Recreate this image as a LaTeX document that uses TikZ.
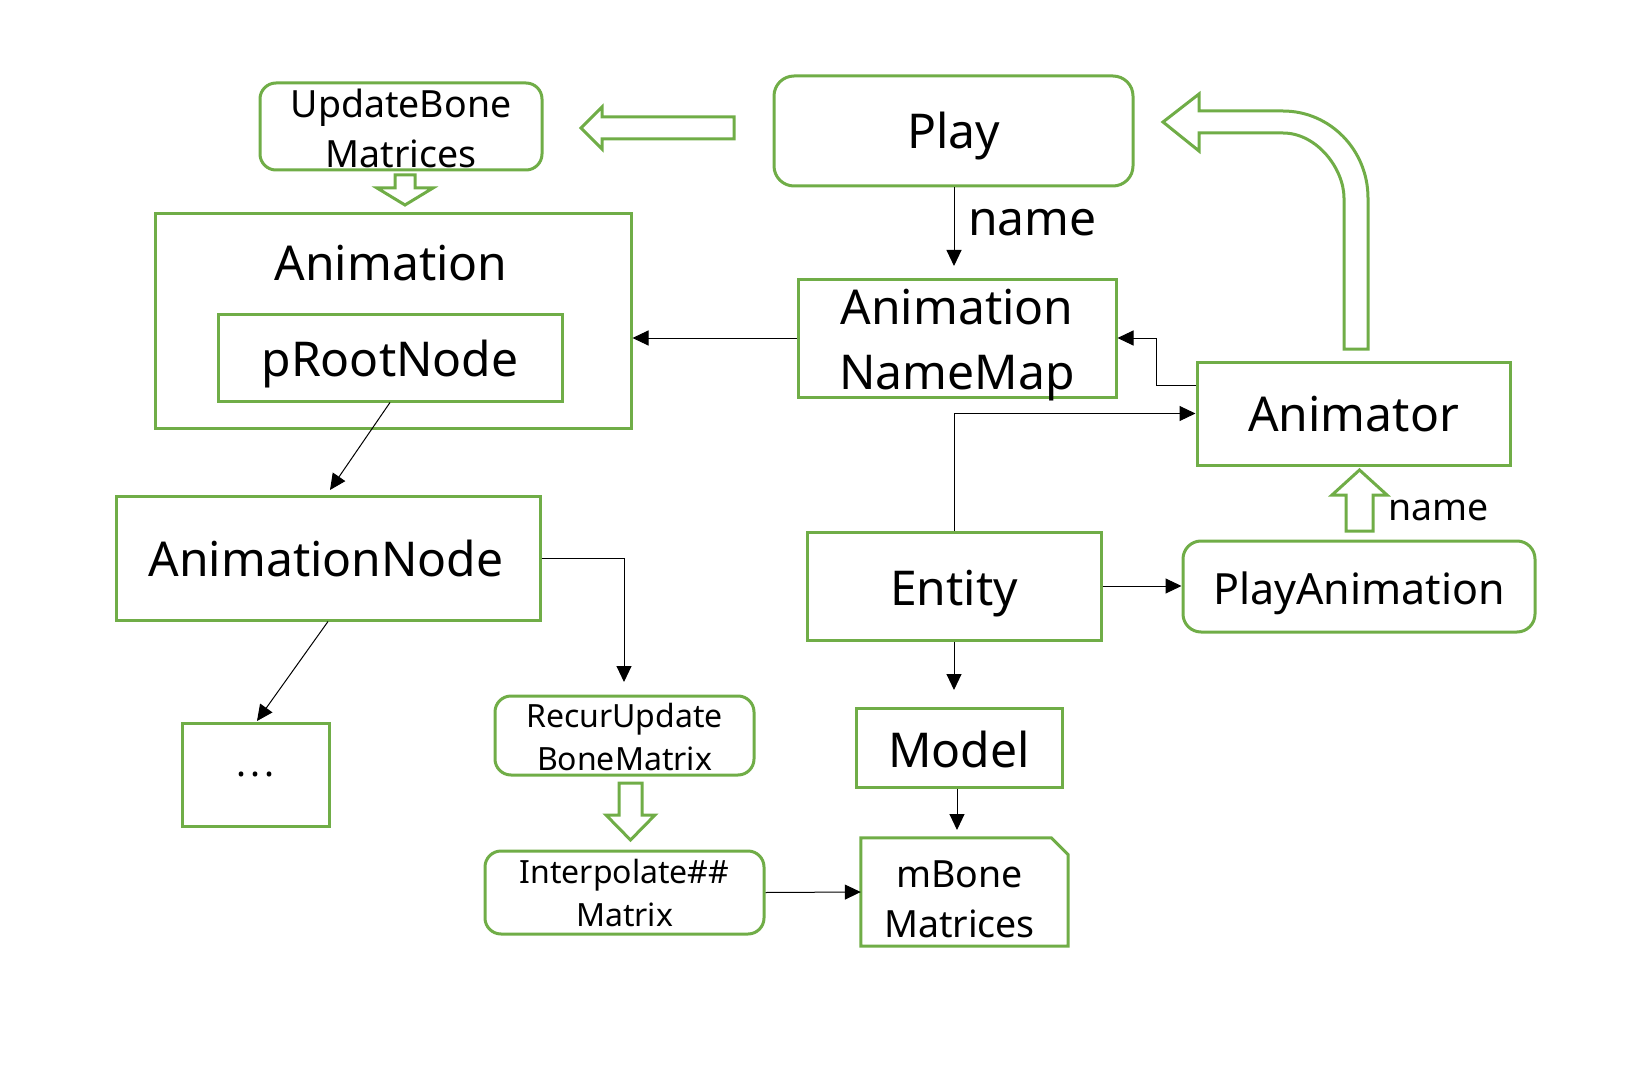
\documentclass[tikz,border=0pt]{standalone}
\usepackage{fontspec}
\setmainfont{Noto Sans}
\usetikzlibrary{arrows.meta}
\definecolor{gr}{HTML}{70AD47}
\begin{document}
\begin{tikzpicture}[x=1pt,y=-1pt,
  box/.style={draw=gr, line width=3pt, fill=white, inner sep=0pt, align=center, text=black},
  rbox/.style={box, rounded corners=16pt},
  fL/.style={font=\fontsize{48}{65}\selectfont, inner sep=0pt, align=center},
  fP/.style={font=\fontsize{43}{58}\selectfont, inner sep=0pt, align=center},
  fM/.style={font=\fontsize{37.5}{50}\selectfont, inner sep=0pt, align=center},
  fS/.style={font=\fontsize{32}{43}\selectfont, inner sep=0pt, align=center},
  conn/.style={line width=1pt, -{Triangle[length=16pt,width=15pt]}},
  hollow/.style={draw=gr, line width=3pt, fill=white, line join=miter}
]
\useasboundingbox (0,0) rectangle (1636,1078);

% boxes
\node[rbox, minimum width=359pt, minimum height=110pt, rounded corners=20pt,
  label={[fL,yshift=-5pt]center:Play}] (play) at (953.5,131) {};
\node[rbox, minimum width=282pt, minimum height=87pt,
  label={[fM,yshift=-2pt]center:{UpdateBone\\Matrices}}] (ubm) at (401,126.5) {};
\node[box, minimum width=476pt, minimum height=214pt] (anim) at (393,321) {};
\node[fL] (animtitle) at (391,263) {Animation};
\node[box, minimum width=344pt, minimum height=87pt,
  label={[fL,yshift=-7pt]center:pRootNode}] (proot) at (390,357.5) {};
\node[box, minimum width=318pt, minimum height=118pt,
  label={[fL,yshift=-7pt]center:{Animation\\NameMap}}] (nmap) at (957,338) {};
\node[box, minimum width=313pt, minimum height=103pt,
  label={[fL,yshift=-1pt]center:Animator}] (animator) at (1353.5,413.5) {};
\node[box, minimum width=294pt, minimum height=108pt,
  label={[fL,yshift=-8pt]center:Entity}] (entity) at (954,586) {};
\node[rbox, minimum width=352pt, minimum height=91pt, rounded corners=18pt,
  label={[fP,yshift=-7pt]center:PlayAnimation}] (playanim) at (1359,586.5) {};
\node[box, minimum width=424pt, minimum height=124pt,
  label={[fL,xshift=-2pt]center:AnimationNode}] (animnode) at (328,558) {};
\node[box, minimum width=147pt, minimum height=103pt,
  label={[fM]center:{.\hspace{4pt}.\hspace{4pt}.}}] (dots) at (255.5,774.5) {};
\node[rbox, minimum width=259pt, minimum height=79pt,
  label={[fS,yshift=-1pt]center:{RecurUpdate\\BoneMatrix}}] (recur) at (624.5,735.5) {};
\node[rbox, minimum width=279pt, minimum height=83pt,
  label={[fS]center:{Interpolate\#\#\\Matrix}}] (interp) at (624.5,892.5) {};
\node[box, minimum width=206pt, minimum height=79pt,
  label={[fL,yshift=-2pt]center:Model}] (model) at (959,747.5) {};
\node[minimum width=207pt, minimum height=108pt, inner sep=0pt,
  label={[fM,xshift=-5pt,yshift=-7pt]center:{mBone\\Matrices}}] (mbone) at (964.5,892) {};
\draw[draw=gr, line width=3pt] (mbone.south west) -- (mbone.north west) -- ([xshift=-17pt]mbone.north east) -- ([yshift=-17pt]mbone.north east) -- (mbone.south east) -- cycle;

% labels
\node[fL, anchor=west] (lname1) at (968,223) {name};
\node[fM, anchor=west] (lname2) at (1388,510) {name};

% connectors
\coordinate (pn) at (954,266);
\draw[conn] (pn |- play.south) -- (pn);
\draw[conn] (nmap.west) -- (anim.east |- nmap.west);
\coordinate (k1) at (1156,385);
\draw[conn] (animator.west |- k1) -- (k1) |- (nmap.east);
\draw[conn] (entity.north) |- (animator.west);
\draw[conn] (entity.east) -- (playanim.west |- entity.east);
\coordinate (k2) at (330,490);
\draw[conn] (proot.south) -- (k2);
\coordinate (k3) at (257,721);
\draw[conn] (animnode.south) -- (k3);
\coordinate (k4) at (624,682);
\draw[conn] (animnode.east) -| (k4);
\coordinate (k5) at (954,690);
\draw[conn] (entity.south) -- (k5);
\coordinate (k6) at (957,830);
\draw[conn] (k6 |- model.south) -- (k6);
\draw[conn] (interp.east) -- (mbone.west);

% hollow block arrows
\draw[hollow] (734,117) -- (602,117) -- (602,107) -- (581,128) -- (602,149) -- (602,139) -- (734,139) -- cycle;
\draw[hollow] (395,175) -- (415,175) -- (415,188) -- (433,188) -- (405,205) -- (377,188) -- (395,188) -- cycle;
\draw[hollow] (619,783) -- (642,783) -- (642,815) -- (655,815) -- (630.5,840) -- (606,815) -- (619,815) -- cycle;
\draw[hollow] (1346,531) -- (1346,495) -- (1332,495) -- (1359.5,470) -- (1387,495) -- (1373,495) -- (1373,531) -- cycle;
\draw[hollow] (1344,349) -- (1368,349) -- (1368,198) .. controls (1368,150) and (1330,111) .. (1283,111) -- (1199,111) -- (1199,94) -- (1163,122) -- (1199,151) -- (1199,133) -- (1283,133) .. controls (1317,133) and (1344,169) .. (1344,198) -- cycle;
\end{tikzpicture}
\end{document}
